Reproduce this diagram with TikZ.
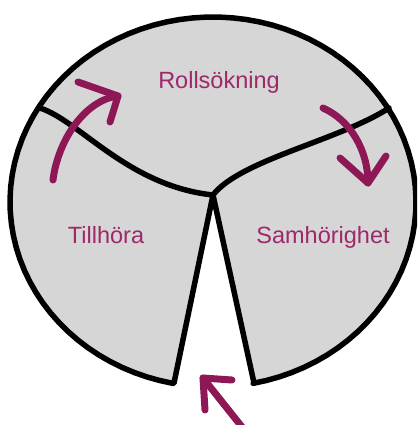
\documentclass[tikz,border=0pt]{standalone}
\usepackage{fontspec}
\setmainfont{Liberation Sans}
\usepackage{tikz}
\definecolor{wheelgray}{RGB}{214,214,214}
\definecolor{labelplum}{RGB}{158,40,106}
\definecolor{arrowplum}{RGB}{142,24,86}

\begin{document}
\begin{tikzpicture}[x=1pt,y=-1pt]
        \tikzset{Outline/.style={line width=5.5pt, line join=round, line cap=round},
          Label/.style={text=labelplum, font=\fontsize{23.5}{28}\selectfont, anchor=base, inner sep=0pt},
          Stroke/.style={draw=arrowplum, line width=7pt, line cap=round, line join=round}}
        \useasboundingbox (0,0) rectangle (417,425);
        \clip (0,0) rectangle (417,425);
        \coordinate (Apex) at (213,195);
        \coordinate (LeftFoot) at (174,383);
        \coordinate (RightFoot) at (254,383);
        \coordinate (LeftRim) at (40,108);
        \coordinate (RightRim) at (389,108);
        \fill[wheelgray] (LeftFoot) -- (Apex) -- (RightFoot)
          -- plot[domain=438.6:101.4, samples=90] ({213+203*cos(\x)},{202+185*sin(\x)}) -- cycle;
        \draw[Outline] (LeftFoot) -- (Apex) -- (RightFoot)
          -- plot[domain=438.6:101.4, samples=90] ({213+203*cos(\x)},{202+185*sin(\x)}) -- cycle;
        \draw[Outline] (LeftRim) .. controls (80,121) and (128,186) .. (Apex);
        \draw[Outline] (RightRim) .. controls (340,140) and (240,160) .. (Apex);
        \node[Label] (rollsokning) at (219,89) {Rollsökning};
        \node[Label] (tillhora) at (106,243) {Tillhöra};
        \node[Label] (samhorighet) at (323,243) {Samhörighet};
        \coordinate (RiseTail) at (53,180);
        \coordinate (RiseTip) at (118,96);
        \coordinate (RiseArmA) at (78,82);
        \coordinate (RiseArmB) at (110,122);
        \draw[Stroke] (RiseTail) .. controls (58,140) and (85,100) .. (RiseTip);
        \draw[Stroke] (RiseArmA) -- (RiseTip) -- (RiseArmB);
        \coordinate (FallTail) at (323,108);
        \coordinate (FallTip) at (368,183);
        \coordinate (FallArmA) at (340,158);
        \coordinate (FallArmB) at (386,156);
        \draw[Stroke] (FallTail) .. controls (350,120) and (368,150) .. (FallTip);
        \draw[Stroke] (FallArmA) -- (FallTip) -- (FallArmB);
        \coordinate (EntryTail) at (246,432);
        \coordinate (EntryTip) at (203,378);
        \coordinate (EntryArmA) at (205,410);
        \coordinate (EntryArmB) at (232,380);
        \draw[Stroke] (EntryTail) -- (EntryTip);
        \draw[Stroke] (EntryArmA) -- (EntryTip) -- (EntryArmB);
\end{tikzpicture}
\end{document}
